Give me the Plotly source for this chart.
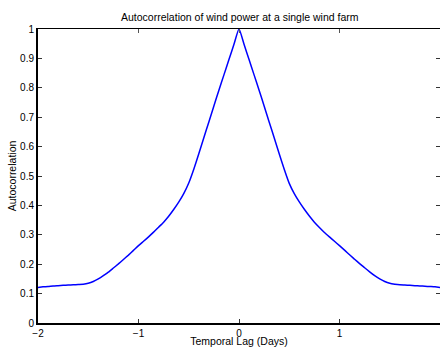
import plotly.graph_objects as go

lag_days = [-2.00, -1.95, -1.90, -1.85, -1.80, -1.75, -1.70, -1.65, -1.60, -1.55,
            -1.50, -1.45, -1.40, -1.35, -1.30, -1.25, -1.20, -1.15, -1.10, -1.05,
            -1.00, -0.95, -0.90, -0.85, -0.80, -0.75, -0.70, -0.65, -0.60, -0.55,
            -0.50, -0.45, -0.40, -0.35, -0.30, -0.25, -0.20, -0.15, -0.10, -0.05,
            0.00,
            0.05, 0.10, 0.15, 0.20, 0.25, 0.30, 0.35, 0.40, 0.45, 0.50,
            0.55, 0.60, 0.65, 0.70, 0.75, 0.80, 0.85, 0.90, 0.95, 1.00,
            1.05, 1.10, 1.15, 1.20, 1.25, 1.30, 1.35, 1.40, 1.45, 1.50,
            1.55, 1.60, 1.65, 1.70, 1.75, 1.80, 1.85, 1.90, 1.95, 2.00]
autocorr = [0.121, 0.123, 0.124, 0.126, 0.127, 0.128, 0.129, 0.130, 0.131, 0.132,
            0.135, 0.141, 0.150, 0.161, 0.173, 0.187, 0.201, 0.216, 0.231, 0.247,
            0.263, 0.278, 0.293, 0.309, 0.326, 0.343, 0.363, 0.386, 0.411, 0.440,
            0.476, 0.523, 0.576, 0.630, 0.684, 0.738, 0.792, 0.844, 0.896, 0.948,
            1.000,
            0.948, 0.896, 0.844, 0.792, 0.738, 0.684, 0.630, 0.576, 0.523, 0.475,
            0.440, 0.412, 0.387, 0.364, 0.343, 0.325, 0.308, 0.293, 0.278, 0.263,
            0.248, 0.232, 0.217, 0.202, 0.188, 0.174, 0.161, 0.150, 0.141, 0.135,
            0.132, 0.130, 0.129, 0.128, 0.127, 0.126, 0.125, 0.124, 0.123, 0.121]

x_ticks = [-2, -1, 0, 1, 2]
y_ticks = [0, 0.1, 0.2, 0.3, 0.4, 0.5, 0.6, 0.7, 0.8, 0.9, 1]
y_tick_labels = ["0", "0.1", "0.2", "0.3", "0.4", "0.5", "0.6", "0.7", "0.8", "0.9", "1"]

font = dict(family="Liberation Sans, Arial, sans-serif", size=10.5, color="black")

fig = go.Figure()
fig.add_trace(go.Scatter(x=lag_days, y=autocorr, mode="lines",
                         line=dict(color="#0000ff", width=1.5, shape="spline", smoothing=0.5),
                         showlegend=False))
fig.add_trace(go.Scatter(x=[lag_days[0]], y=[autocorr[0]], xaxis="x2", yaxis="y2",
                         mode="markers", marker=dict(opacity=0), showlegend=False,
                         hoverinfo="skip"))

fig.update_layout(
    width=440, height=347,
    margin=dict(l=38, r=0, t=29, b=24),
    paper_bgcolor="white", plot_bgcolor="white",
    font=font,
    title=dict(text="Autocorrelation of wind power at a single wind farm",
               x=0.545, xanchor="center", y=0.951, yanchor="middle",
               font=dict(size=10.5)),
    xaxis=dict(range=[-2, 2], tickvals=x_ticks, ticks="inside", ticklen=4,
               tickcolor="#333", showgrid=False, zeroline=False,
               showline=True, linecolor="black", linewidth=2,
               title=dict(text="Temporal Lag (Days)", standoff=0, font=dict(size=10.5)),
               tickfont=dict(size=10)),
    yaxis=dict(range=[0, 1], tickvals=y_ticks, ticktext=y_tick_labels,
               ticks="inside", ticklen=4, tickcolor="#333",
               showgrid=False, zeroline=False,
               showline=True, linecolor="black", linewidth=2,
               title=dict(text="Autocorrelation", standoff=1, font=dict(size=10.5)),
               tickfont=dict(size=10)),
    xaxis2=dict(range=[-2, 2], tickvals=x_ticks, overlaying="x", side="top",
                ticks="inside", ticklen=4, tickcolor="#555", showticklabels=False,
                showgrid=False, zeroline=False, showline=True, linecolor="black",
                linewidth=1),
    yaxis2=dict(range=[0, 1], tickvals=y_ticks, overlaying="y", side="right",
                ticks="inside", ticklen=4, tickcolor="#333", showticklabels=False,
                showgrid=False, zeroline=False, showline=False),
)

fig.write_html("out.html")
